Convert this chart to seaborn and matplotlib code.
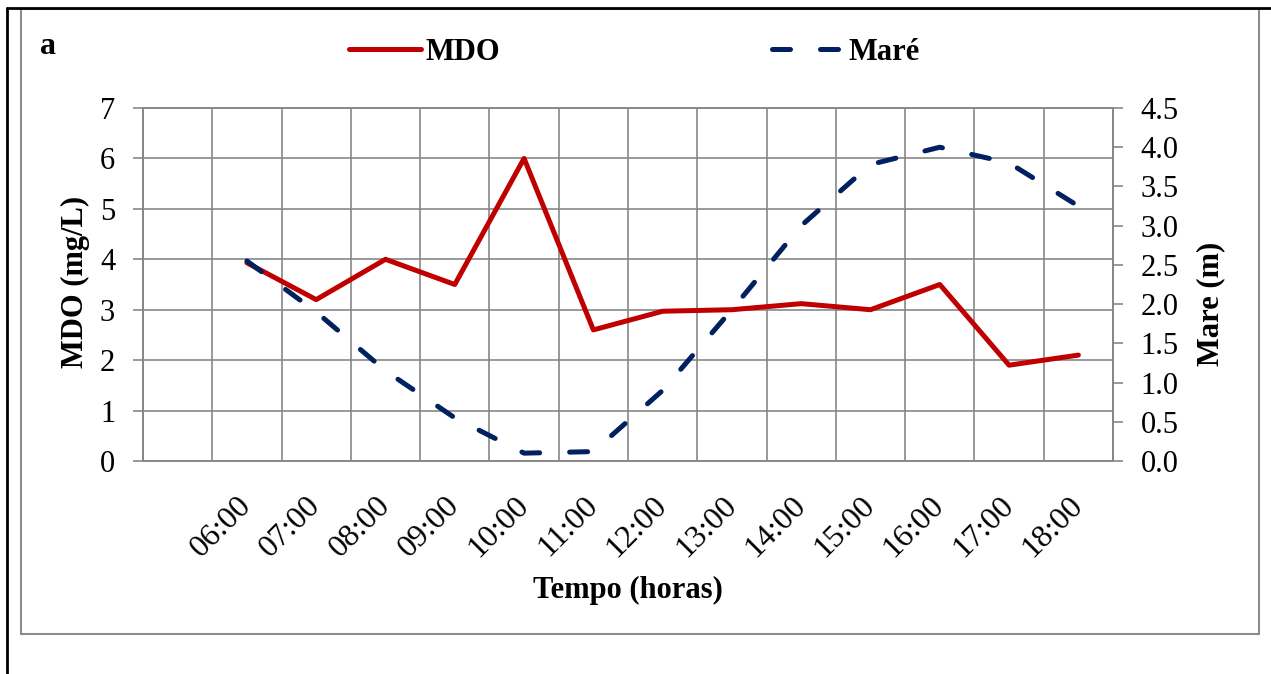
import numpy as np
import pandas as pd
import seaborn as sns
import matplotlib.pyplot as plt
from matplotlib.lines import Line2D
from matplotlib.patches import Rectangle

horas = ['06:00', '07:00', '08:00', '09:00', '10:00', '11:00', '12:00',
         '13:00', '14:00', '15:00', '16:00', '17:00', '18:00']
mdo = [3.93, 3.2, 4.0, 3.5, 6.0, 2.6, 2.97, 3.0, 3.12, 3.0, 3.5, 1.9, 2.1]
mare = [2.55, 1.9, 1.15, 0.55, 0.1, 0.12, 0.9, 1.93, 3.0, 3.78, 4.0, 3.8, 3.25]

sns.set_style('white')
plt.rcParams['font.family'] = ['Liberation Serif', 'DejaVu Serif']
plt.rcParams['text.color'] = 'black'
plt.rcParams['axes.labelcolor'] = 'black'

grid_c = '#878787'
red = '#C00000'
navy = '#002060'
fs = 22

df = pd.DataFrame({'pos': np.arange(1, len(horas) + 1), 'hora': horas,
                   'MDO': mdo, 'Mare': mare})

fig = plt.figure(figsize=(12.71, 6.74), dpi=100)
W, H = 1271, 674
ax = fig.add_axes([143 / W, 1 - 461 / H, 970 / W, 353 / H])
ax2 = ax.twinx()

sns.lineplot(data=df, x='pos', y='MDO', ax=ax, color=red, lw=3.6,
             solid_capstyle='round', solid_joinstyle='round', legend=False)
sns.lineplot(data=df, x='pos', y='Mare', ax=ax2, color=navy, lw=3.6,
             linestyle=(0, (3.6, 6.0)), dash_capstyle='round',
             dash_joinstyle='round', legend=False)

n = len(horas) + 1
ax.set_xlim(-0.5, n - 0.5)
ax.set_ylim(0, 7)
ax.set_yticks(range(0, 8))
ax.set_xticks(np.arange(-0.5, n, 1.0))
ax.set_xticklabels([])
ax.set_xticks(df['pos'], minor=True)
ax.set_xticklabels(horas, minor=True, rotation=45, ha='right', va='center',
                   rotation_mode='anchor', fontsize=fs + 1)
ax.tick_params(axis='x', which='major', direction='out', length=6.5,
               width=1.2, color=grid_c)
ax.tick_params(axis='x', which='minor', length=0, pad=29, labelcolor='black')
ax.tick_params(axis='y', direction='out', length=7, width=1.2, color=grid_c,
               labelsize=fs, pad=13, labelcolor='black')
ax.grid(True, color=grid_c, lw=1.2)
for s in ax.spines.values():
    s.set_color(grid_c)
    s.set_linewidth(1.2)

ax2.set_ylim(0, 4.5)
ax2.set_yticks(np.arange(0, 4.51, 0.5))
ax2.set_yticklabels([f'{v:.1f}' for v in np.arange(0, 4.51, 0.5)])
ax2.tick_params(axis='y', direction='out', length=7, width=1.2, color=grid_c,
                labelsize=fs, pad=13, labelcolor='black')
ax2.grid(False)
for s in ax2.spines.values():
    s.set_color(grid_c)
    s.set_linewidth(1.2)

ax.set_xlabel('Tempo (horas)', fontsize=fs, fontweight='bold')
ax.xaxis.set_label_coords(0.5, -0.325)
ax.set_ylabel('MDO (mg/L)', fontsize=fs, fontweight='bold')
ax.yaxis.set_label_coords(-0.055, 0.507)
ax2.set_ylabel('Mare (m)', fontsize=fs, fontweight='bold', rotation=90)
ax2.yaxis.set_label_coords(1.086, 0.445)

handles = [Line2D([], [], color=red, lw=3.6, solid_capstyle='round'),
           Line2D([], [], color=navy, lw=3.6, linestyle=(0, (3.6, 6.0)),
                  dash_capstyle='round')]
fig.legend(handles, ['MDO', 'Maré'], loc='center', ncol=2, frameon=False,
           bbox_to_anchor=(634 / W, 1 - 52 / H), handlelength=2.35,
           handletextpad=0.15, columnspacing=8.9,
           prop={'size': fs, 'weight': 'bold'})

fig.text(40 / W, 1 - 46 / H, 'a', fontsize=fs + 1, fontweight='bold',
         va='center')

# moldura
fig.add_artist(Rectangle((21 / W, 1 - 634 / H), (1259 - 21) / W, (634 - 9) / H,
                         transform=fig.transFigure, fill=False,
                         edgecolor='#8c8c8c', lw=1.5))
fig.add_artist(Line2D([7 / W, 7 / W], [0, 1 - 8 / H], color='black', lw=2,
                      transform=fig.transFigure))
fig.add_artist(Line2D([7 / W, 1], [1 - 8 / H, 1 - 8 / H], color='black', lw=2,
                      transform=fig.transFigure))

fig.savefig('out.png', dpi=100)
